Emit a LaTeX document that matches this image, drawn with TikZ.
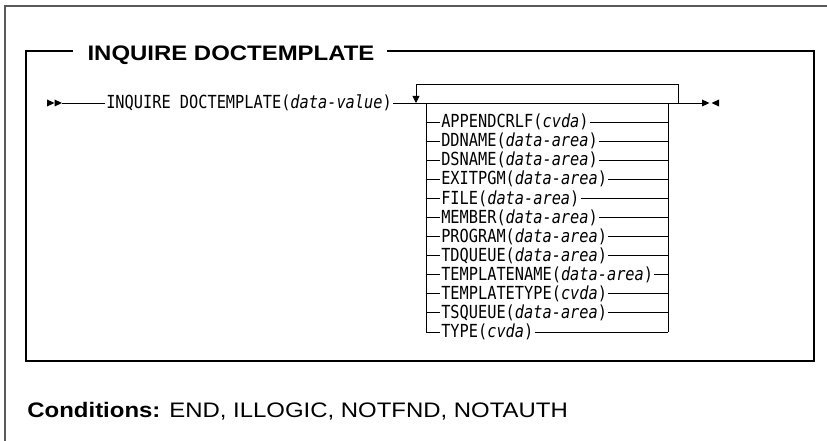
\documentclass[tikz,border=0pt]{standalone}
\usepackage{fontspec}
\setmainfont[FakeStretch=1.14]{Liberation Sans}
\setmonofont[FakeStretch=0.85]{DejaVu Sans Mono}
\usetikzlibrary{arrows.meta,positioning}

\tikzset{
  syn/.style={font=\fontsize{18}{20}\selectfont\ttfamily, inner sep=.8pt, anchor=west},
  frame/.style={line width=1.3pt},
}

\begin{document}
\begin{tikzpicture}[x=1pt, y=-1pt, line width=.9pt, >={Triangle[width=7pt,length=7pt]}]
  \useasboundingbox (0,0) rectangle (827,441);
  % page frame, open to the right and below
  \draw[frame, gray!70!black] (5,441) -- (5,6) -- (827,6);

  % titled box
  \node[font=\fontsize{21}{24}\selectfont\bfseries, inner sep=0pt, anchor=base] (title) at (231,60.5) {INQUIRE DOCTEMPLATE};
  \draw[frame] ([xshift=-14pt]title.west |- 0,51) -- (26,51) -- (26,361) -- (814,361) -- (814,51) -- ([xshift=12pt]title.east |- 0,51);

  % main line
  \coordinate (in) at (62,103);
  \coordinate (out) at (702,103);
  \coordinate (loopL) at (416,103);
  \coordinate (loopR) at (678,103);
  \coordinate (lrail) at (426,103);
  \coordinate (rrail) at (668,103);
  \node[syn] (cmd) at (105,103) {INQUIRE DOCTEMPLATE(\textit{data-value})};
  \fill (in) -- ++(-7.5,-3.5) -- ++(0,7) -- cycle;
  \fill ([xshift=-7.5pt]in) -- ++(-7.5,-3.5) -- ++(0,7) -- cycle;
  \draw (in) -- (cmd.west);
  \draw (cmd.east) -- (out);
  \fill (out) -- ++(0,-3.5) -- ++(7.5,3.5) -- ++(-7.5,3.5) -- cycle;
  \fill ([xshift=17pt]out) -- ++(0,-3.5) -- ++(-7.5,3.5) -- ++(7.5,3.5) -- cycle;

  % repeat loop
  \draw[->] (loopR) -- ++(0,-19) -| (loopL);

  % choices
  \foreach \key/\arg [count=\i from 0] in {APPENDCRLF/cvda, DDNAME/data-area, DSNAME/data-area,
      EXITPGM/data-area, FILE/data-area, MEMBER/data-area, PROGRAM/data-area, TDQUEUE/data-area,
      TEMPLATENAME/data-area, TEMPLATETYPE/cvda, TSQUEUE/data-area, TYPE/cvda} {
    \node[syn] (opt\i) at (440,122+19.09*\i) {\key(\textit{\arg})};
    \draw (opt\i.west) -- (opt\i.west -| lrail);
    \draw (opt\i.east) -- (opt\i.east -| rrail);
  }
  \draw (lrail) -- (lrail |- opt11.west);
  \draw (rrail) -- (rrail |- opt11.east);

  % conditions
  \node[font=\fontsize{21}{24}\selectfont, inner sep=0pt, anchor=base west] (cond) at (27,417) {\textbf{Conditions:} END, ILLOGIC, NOTFND, NOTAUTH};
\end{tikzpicture}
\end{document}
